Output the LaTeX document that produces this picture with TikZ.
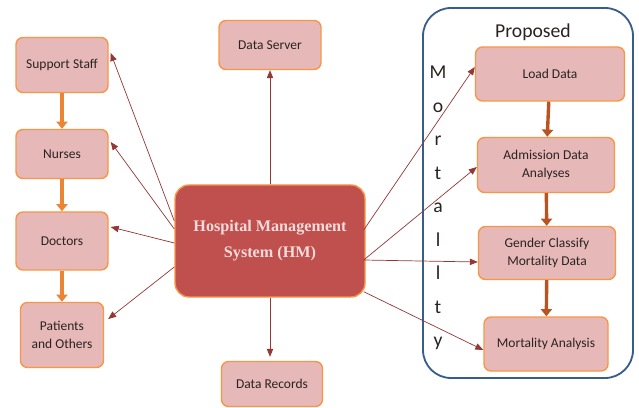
\documentclass[tikz,border=0pt]{standalone}
\usepackage{fontspec}
\setmainfont{Carlito}
\newfontfamily\hmfont{Liberation Serif}
\usepackage{tikz}
\usetikzlibrary{positioning, arrows.meta, calc}
\definecolor{boxfill}{HTML}{E6B9B8}
\definecolor{boxdraw}{HTML}{F79646}
\definecolor{hubfill}{HTML}{C0504D}
\definecolor{hubtext}{HTML}{F2DCDB}
\definecolor{link}{HTML}{953735}
\definecolor{flowleft}{HTML}{EC8436}
\definecolor{flowright}{HTML}{B9531F}
\definecolor{frame}{HTML}{385D8A}
\definecolor{ink}{HTML}{2B2222}
\tikzset{
  box/.style   = {rectangle, rounded corners=5pt, draw=boxdraw, line width=1pt,
                  fill=boxfill, minimum width=2.3cm, minimum height=1.3cm,
                  align=center, text=ink, font=\fontsize{9.6}{12.5}\selectfont},
  hub/.style   = {rectangle, rounded corners=10pt, draw=boxdraw, line width=1pt,
                  fill=hubfill, minimum width=4.75cm, minimum height=2.8cm,
                  align=center, text=hubtext,
                  font=\hmfont\bfseries\fontsize{11.5}{18.4}\selectfont},
  ar/.style    = {-{Triangle[length=2mm,width=1.6mm]}, draw=link, line width=0.5pt},
  flowl/.style = {-{Triangle[length=1.8mm,width=2.8mm]}, draw=flowleft, line width=2.4pt},
  flowr/.style = {-{Triangle[length=1.8mm,width=2.8mm]}, draw=flowright, line width=2.4pt},
}
\begin{document}
\begin{tikzpicture}
  \useasboundingbox (0,0) rectangle (15.975,-10.2);

  % proposed frame
  \draw[frame, line width=1.3pt, rounded corners=0.7cm] (10.575,-0.2) rectangle (15.825,-9.45);
  \node[font=\fontsize{14}{16}\selectfont, text=ink] (prop) at (13.325,-0.8) {Proposed};
  \node[font=\fontsize{14}{23.8}\selectfont, text=ink, align=center] (mort) at (10.95,-5.2)
       {M\\o\\r\\t\\a\\l\\l\\t\\y};

  % left column
  \node[box, minimum height=1.375cm] (staff) at (1.55,-1.625) {Support Staff};
  \node[box, minimum height=1.225cm] (nurse) at (1.55,-3.85) {Nurses};
  \node[box, minimum height=1.45cm] (doc) at (1.55,-6.025) {Doctors};
  \node[box, minimum width=2.075cm, minimum height=1.625cm] (pat) at (1.55,-8.375)
       {Patients\\and Others};

  % centre
  \node[box, minimum width=2.55cm, minimum height=1.225cm] (server) at (6.75,-1.125) {Data Server};
  \node[hub] (hm) at (6.75,-6.025) {Hospital Management\\System (HM)};
  \node[box, minimum width=2.525cm, minimum height=1.125cm] (rec) at (6.8,-9.6) {Data Records};

  % right column
  \node[box, minimum width=3.725cm, minimum height=1.35cm] (load) at (13.75,-1.85) {Load Data};
  \node[box, minimum width=3.425cm, minimum height=1.375cm] (adm) at (13.65,-4.125)
       {Admission Data\\Analyses};
  \node[box, minimum width=3.425cm, minimum height=1.325cm] (gen) at (13.675,-6.325)
       {Gender Classify\\Mortality Data};
  \node[box, minimum width=3.1cm, minimum height=1.35cm] (ana) at (13.65,-8.6) {Mortality Analysis};

  \draw[flowl] (staff) -- (nurse);
  \draw[flowl] (nurse) -- (doc);
  \draw[flowl] (doc) -- (pat);
  \draw[flowr] (load) -- (adm);
  \draw[flowr] (adm) -- (gen);
  \draw[flowr] (gen) -- (ana);

  \draw[ar] ($(hm.west)+(0,0.5)$) -- ($(staff.east)+(0.05,0.3)$);
  \draw[ar] ($(hm.west)+(0,0.3)$) -- ($(nurse.east)+(0.05,0.3)$);
  \draw[ar] ($(hm.west)+(0,-0.05)$) -- ($(doc.east)+(0.05,0.35)$);
  \draw[ar] ($(hm.west)+(0,-0.65)$) -- ($(pat.east)+(0.1,0.4)$);
  \draw[ar] (hm.north) -- (server.south);
  \draw[ar] (hm.south) -- ($(rec.north)+(-0.05,0.1)$);
  \draw[ar] ($(hm.east)+(-0.05,0.275)$) -- ($(load.west)+(0,0.175)$);
  \draw[ar] ($(hm.east)+(-0.05,-0.475)$) -- ($(adm.west)+(0,-0.05)$);
  \draw[ar] ($(hm.east)+(-0.05,-0.475)$) -- ($(gen.west)+(0,-0.225)$);
  \draw[ar] ($(hm.south east)+(-0.05,0.15)$) -- ($(ana.west)+(0,-0.15)$);

\end{tikzpicture}
\end{document}
